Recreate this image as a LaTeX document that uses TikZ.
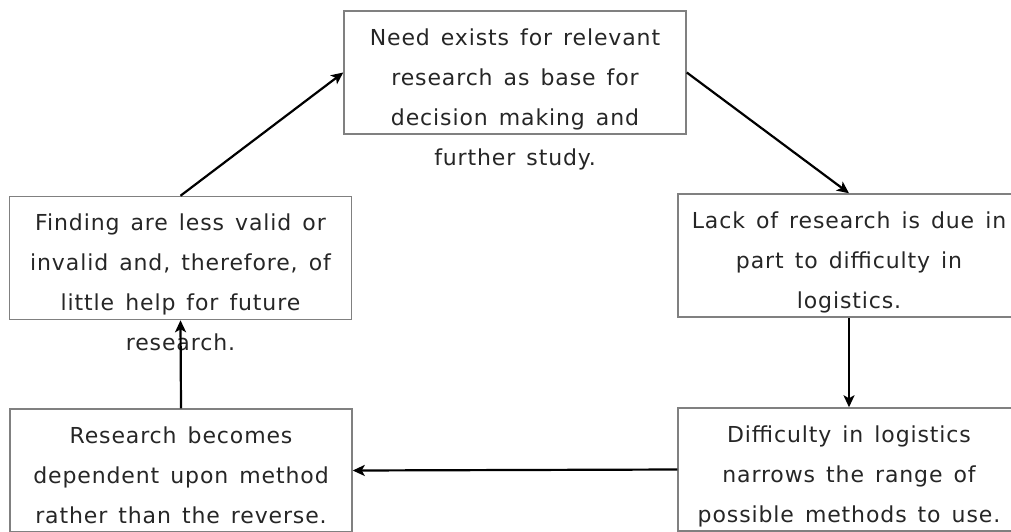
\documentclass[tikz,border=0pt]{standalone}
\usepackage{fontspec}
\setmainfont{DejaVu Sans}[LetterSpace=4, WordSpace=1.4]
\usetikzlibrary{arrows.meta, positioning}

\begin{document}
\begin{tikzpicture}[x=1pt, y=-1pt,
    block/.style={rectangle, draw=gray, line width=1.5pt, minimum width=342pt, minimum height=123pt, inner sep=0pt},
    txt/.style={align=center, font=\fontsize{22}{40}\selectfont, text=black!85, inner sep=0pt},
    arrow/.style={-{Stealth[length=12pt, width=11pt, inset=3pt]}, line width=2.2pt}
]
\useasboundingbox (0,0) rectangle (1011,531);
\clip (0,0) rectangle (1011,531);
\node[block] (need) at (515,72.5) {};
\node[block] (finding) at (180.5,258) {};
\node[block] (lack) at (849,255.5) {};
\node[block] (depend) at (181,470.5) {};
\node[block] (difficulty) at (849,469.5) {};
\node[txt, below=18pt of need.north] (needtxt) {Need exists for relevant\\research as base for\\decision making and\\further study.};
\node[txt, below=18pt of finding.north] (findingtxt) {Finding are less valid or\\invalid and, therefore, of\\little help for future\\research.};
\node[txt, below=18pt of lack.north] (lacktxt) {Lack of research is due in\\part to difficulty in\\logistics.};
\node[txt, below=18pt of depend.north] (dependtxt) {Research becomes\\dependent upon method\\rather than the reverse.};
\node[txt, below=18pt of difficulty.north] (difficultytxt) {Difficulty in logistics\\narrows the range of\\possible methods to use.};
\draw[arrow] (finding.north) -- (need.west);
\draw[arrow] (need.east) -- (lack.north);
\draw[arrow] (lack.south) -- (difficulty.north);
\draw[arrow] (difficulty.west) -- (depend.east);
\draw[arrow] (depend.north) -- (finding.south);
\end{tikzpicture}
\end{document}
